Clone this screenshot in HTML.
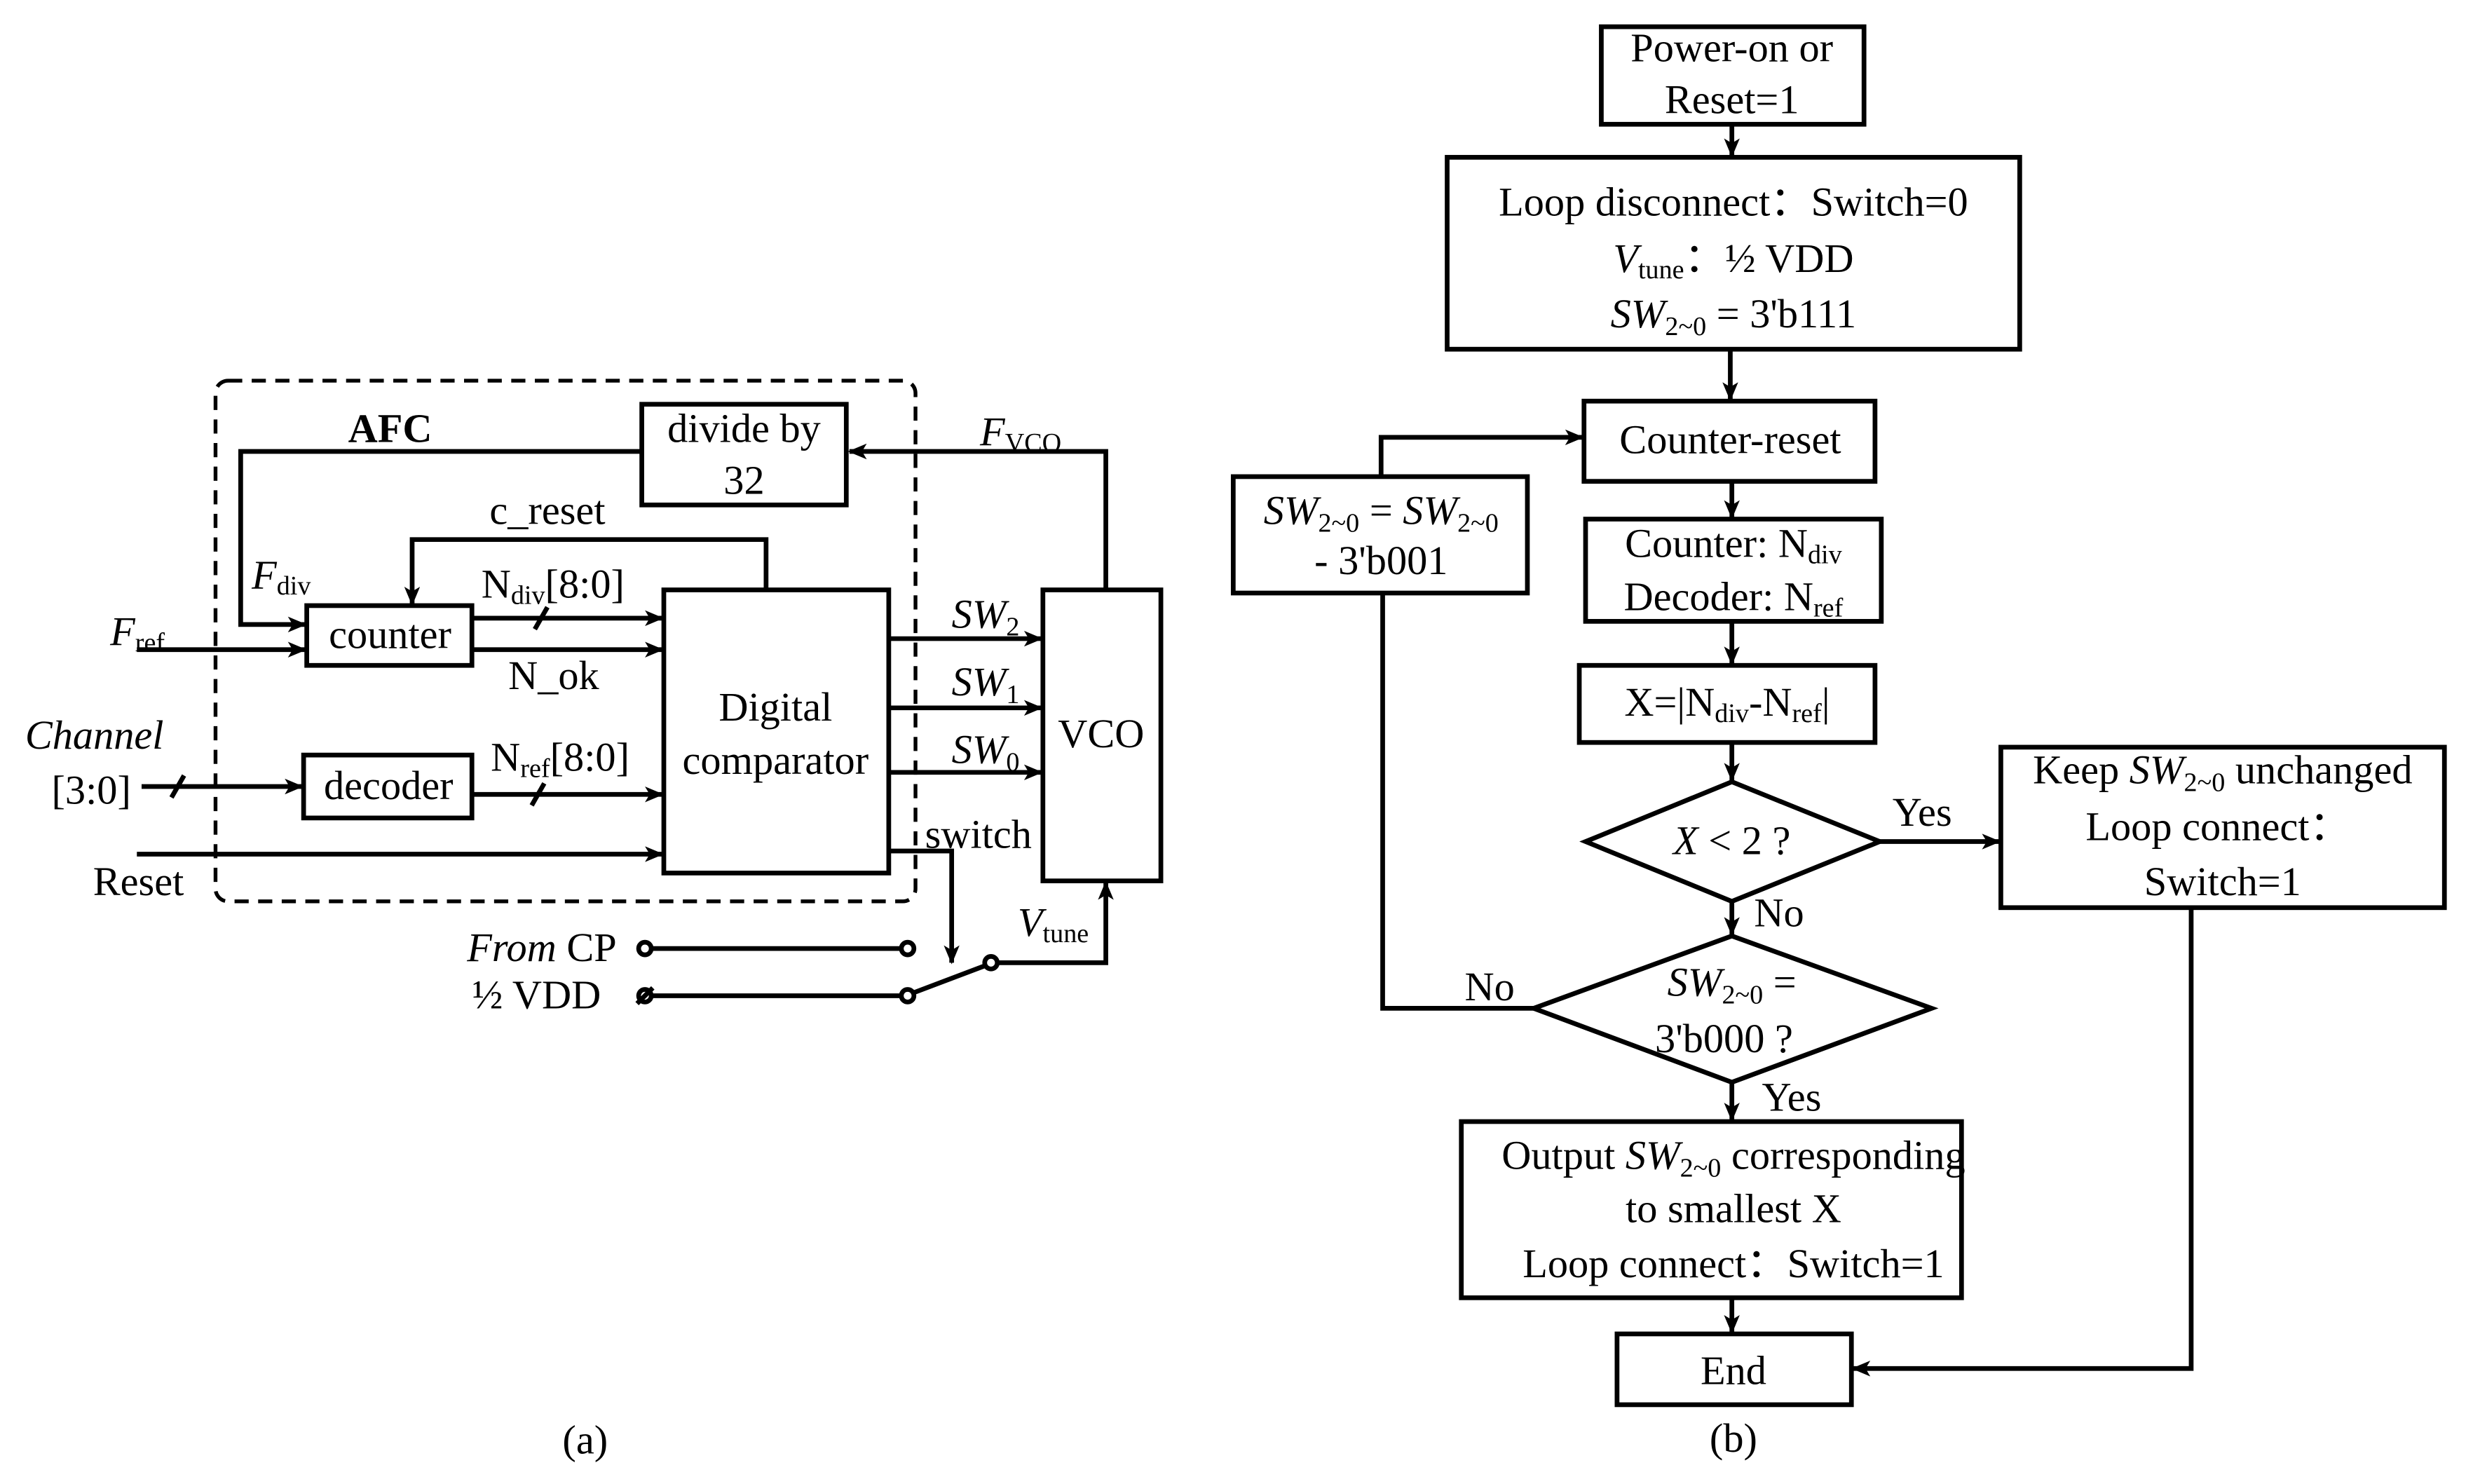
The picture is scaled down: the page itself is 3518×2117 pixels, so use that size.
<!DOCTYPE html>
<html><head><meta charset="utf-8"><style>html,body{margin:0;padding:0;background:#fff}svg{display:block}svg text{font-family:"Liberation Serif","Times New Roman",serif}</style></head>
<body>
<svg width="3518" height="2117" viewBox="0 0 1567.7 943.4" xmlns="http://www.w3.org/2000/svg" style="font-family:'Liberation Serif',serif" font-size="26" fill="#000">
<defs>
<marker id="a" markerWidth="12" markerHeight="10" refX="11" refY="5" orient="auto" markerUnits="userSpaceOnUse"><path d="M0,0 L12,5 L0,10 L3,5 z" fill="#000"/></marker>
</defs>
<g stroke="#000" stroke-width="3" fill="none">
<rect x="137" y="242" width="445" height="331" rx="8" stroke-dasharray="9,6" stroke-width="2.4"/>
<rect x="408" y="257" width="130" height="64"/>
<polyline points="703,375 703,287 540,287" marker-end="url(#a)"/>
<polyline points="408,287 153,287 153,397 194,397" marker-end="url(#a)"/>
<rect x="195" y="385" width="105" height="38"/>
<line x1="87" y1="413" x2="194" y2="413" marker-end="url(#a)"/>
<polyline points="487,375 487,343 262,343 262,384" marker-end="url(#a)"/>
<line x1="300" y1="393" x2="421" y2="393" marker-end="url(#a)"/>
<line x1="340" y1="400" x2="348" y2="386"/>
<line x1="300" y1="413" x2="421" y2="413" marker-end="url(#a)"/>
<rect x="422" y="375" width="143" height="180"/>
<line x1="90" y1="500" x2="192" y2="500" marker-end="url(#a)"/>
<line x1="109" y1="507" x2="117" y2="493"/>
<rect x="193" y="480" width="107" height="40"/>
<line x1="300" y1="505" x2="421" y2="505" marker-end="url(#a)"/>
<line x1="338" y1="512" x2="346" y2="498"/>
<line x1="87" y1="543" x2="421" y2="543" marker-end="url(#a)"/>
<line x1="565" y1="406" x2="662" y2="406" marker-end="url(#a)"/>
<line x1="565" y1="450" x2="662" y2="450" marker-end="url(#a)"/>
<line x1="565" y1="491" x2="662" y2="491" marker-end="url(#a)"/>
<rect x="663" y="375" width="75" height="185"/>
<polyline points="565,541 605,541 605,612" marker-end="url(#a)"/>
<line x1="414" y1="603" x2="573" y2="603"/>
<circle cx="410" cy="603" r="4"/>
<circle cx="577" cy="603" r="4"/>
<line x1="414" y1="633" x2="573" y2="633"/>
<circle cx="410" cy="633" r="4"/>
<line x1="405" y1="638" x2="415" y2="628"/>
<circle cx="577" cy="633" r="4"/>
<line x1="581" y1="631" x2="626" y2="614"/>
<circle cx="630" cy="612" r="4"/>
<polyline points="634,612 703,612 703,561" marker-end="url(#a)"/>
<rect x="1018" y="17" width="167" height="62"/>
<line x1="1101" y1="79" x2="1101" y2="99" marker-end="url(#a)"/>
<rect x="920" y="100" width="364" height="122"/>
<line x1="1100" y1="222" x2="1100" y2="254" marker-end="url(#a)"/>
<rect x="1007" y="255" width="185" height="51"/>
<rect x="784" y="303" width="187" height="74"/>
<polyline points="878,303 878,278 1006,278" marker-end="url(#a)"/>
<line x1="1101" y1="306" x2="1101" y2="329" marker-end="url(#a)"/>
<rect x="1008" y="330" width="188" height="65"/>
<line x1="1101" y1="395" x2="1101" y2="422" marker-end="url(#a)"/>
<rect x="1004" y="423" width="188" height="49"/>
<line x1="1101" y1="472" x2="1101" y2="496" marker-end="url(#a)"/>
<polygon points="1101,497 1195,535 1101,573 1008,535"/>
<line x1="1195" y1="535" x2="1271" y2="535" marker-end="url(#a)"/>
<rect x="1272" y="475" width="282" height="102"/>
<line x1="1101" y1="573" x2="1101" y2="594" marker-end="url(#a)"/>
<polygon points="1101,595 1228,641 1101,688 975,641"/>
<polyline points="975,641 879,641 879,377"/>
<line x1="1101" y1="688" x2="1101" y2="712" marker-end="url(#a)"/>
<rect x="929" y="713" width="318" height="112"/>
<line x1="1101" y1="825" x2="1101" y2="847" marker-end="url(#a)"/>
<rect x="1028" y="848" width="149" height="45"/>
<polyline points="1393,577 1393,870 1178,870" marker-end="url(#a)"/>
</g>
<g>
<text x="248" y="281" font-weight="bold" text-anchor="middle">AFC</text>
<text x="473" y="281" text-anchor="middle">divide by</text>
<text x="473" y="314" text-anchor="middle">32</text>
<text x="623" y="283"><tspan font-style="italic">F</tspan><tspan font-size="17" dy="4">VCO</tspan></text>
<text x="160" y="374"><tspan font-style="italic">F</tspan><tspan font-size="17" dy="4">div</tspan></text>
<text x="248" y="412" text-anchor="middle">counter</text>
<text x="70" y="410"><tspan font-style="italic">F</tspan><tspan font-size="17" dy="4">ref</tspan></text>
<text x="348" y="333" text-anchor="middle">c_reset</text>
<text x="306" y="380">N<tspan font-size="17" dy="4">div</tspan><tspan dy="-4">[8:0]</tspan></text>
<text x="352" y="438" text-anchor="middle">N_ok</text>
<text x="493" y="458" text-anchor="middle">Digital</text>
<text x="493" y="492" text-anchor="middle">comparator</text>
<text x="60" y="476" font-style="italic" text-anchor="middle">Channel</text>
<text x="58" y="511" text-anchor="middle">[3:0]</text>
<text x="247" y="508" text-anchor="middle">decoder</text>
<text x="312" y="490">N<tspan font-size="17" dy="4">ref</tspan><tspan dy="-4">[8:0]</tspan></text>
<text x="88" y="569" text-anchor="middle">Reset</text>
<text x="605" y="399"><tspan font-style="italic">SW</tspan><tspan font-size="17" dy="5">2</tspan></text>
<text x="605" y="442"><tspan font-style="italic">SW</tspan><tspan font-size="17" dy="5">1</tspan></text>
<text x="605" y="485"><tspan font-style="italic">SW</tspan><tspan font-size="17" dy="5">0</tspan></text>
<text x="700" y="475" text-anchor="middle">VCO</text>
<text x="622" y="539" text-anchor="middle">switch</text>
<text x="392" y="611" text-anchor="end"><tspan font-style="italic">From</tspan> CP</text>
<text x="382" y="641" text-anchor="end">½ VDD</text>
<text x="647" y="595"><tspan font-style="italic">V</tspan><tspan font-size="17" dy="4">tune</tspan></text>
<text x="372" y="924" text-anchor="middle">(a)</text>

<text x="1101" y="39" text-anchor="middle">Power-on or</text>
<text x="1101" y="72" text-anchor="middle">Reset=1</text>
<text x="1102" y="137" text-anchor="middle">Loop disconnect：Switch=0</text>
<text x="1102" y="173" text-anchor="middle"><tspan font-style="italic">V</tspan><tspan font-size="17" dy="4">tune</tspan><tspan dy="-4">：½ VDD</tspan></text>
<text x="1102" y="208" text-anchor="middle"><tspan font-style="italic">SW</tspan><tspan font-size="17" dy="5">2~0</tspan><tspan dy="-5"> = 3'b111</tspan></text>
<text x="1100" y="288" text-anchor="middle">Counter-reset</text>
<text x="878" y="333" text-anchor="middle"><tspan font-style="italic">SW</tspan><tspan font-size="17" dy="5">2~0</tspan><tspan dy="-5"> = </tspan><tspan font-style="italic">SW</tspan><tspan font-size="17" dy="5">2~0</tspan></text>
<text x="878" y="365" text-anchor="middle">- 3'b001</text>
<text x="1102" y="354" text-anchor="middle">Counter: N<tspan font-size="17" dy="4">div</tspan></text>
<text x="1102" y="388" text-anchor="middle">Decoder: N<tspan font-size="17" dy="4">ref</tspan></text>
<text x="1098" y="455" text-anchor="middle">X=|N<tspan font-size="17" dy="4">div</tspan><tspan dy="-4">-N</tspan><tspan font-size="17" dy="4">ref</tspan><tspan dy="-4">|</tspan></text>
<text x="1101" y="543" text-anchor="middle"><tspan font-style="italic">X</tspan> &lt; 2 ?</text>
<text x="1222" y="525" text-anchor="middle">Yes</text>
<text x="1413" y="498" text-anchor="middle">Keep <tspan font-style="italic">SW</tspan><tspan font-size="17" dy="5">2~0</tspan><tspan dy="-5"> unchanged</tspan></text>
<text x="1410" y="534" text-anchor="middle">Loop connect：</text>
<text x="1413" y="569" text-anchor="middle">Switch=1</text>
<text x="1131" y="589" text-anchor="middle">No</text>
<text x="1101" y="633" text-anchor="middle"><tspan font-style="italic">SW</tspan><tspan font-size="17" dy="5">2~0</tspan><tspan dy="-5"> =</tspan></text>
<text x="1096" y="669" text-anchor="middle">3'b000 ?</text>
<text x="947" y="636" text-anchor="middle">No</text>
<text x="1139" y="706" text-anchor="middle">Yes</text>
<text x="1102" y="743" text-anchor="middle">Output <tspan font-style="italic">SW</tspan><tspan font-size="17" dy="5">2~0</tspan><tspan dy="-5"> corresponding</tspan></text>
<text x="1102" y="777" text-anchor="middle">to smallest X</text>
<text x="1102" y="812" text-anchor="middle">Loop connect：Switch=1</text>
<text x="1102" y="880" text-anchor="middle">End</text>
<text x="1102" y="923" text-anchor="middle">(b)</text>
</g>
</svg>
</body></html>
